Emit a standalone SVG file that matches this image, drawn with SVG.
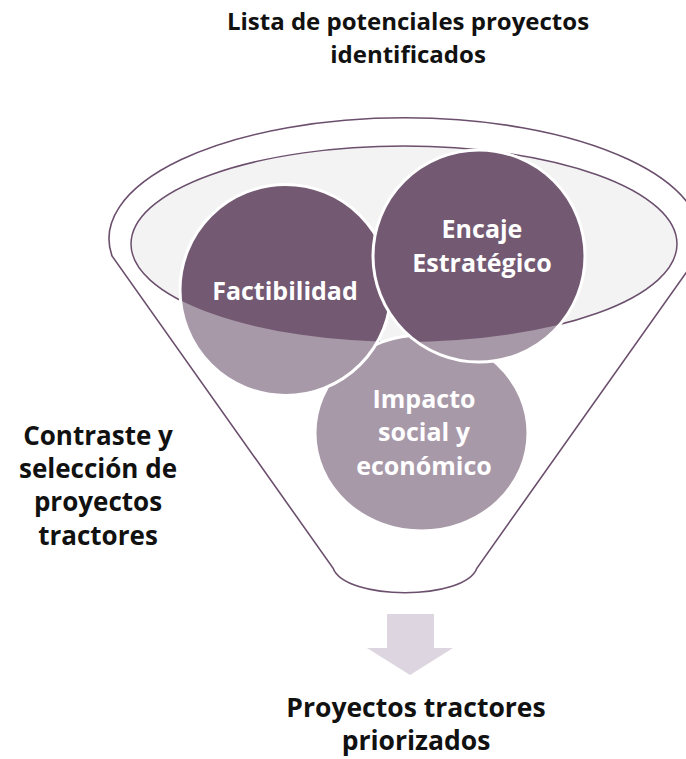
<svg xmlns="http://www.w3.org/2000/svg" width="686" height="759" viewBox="0 0 686 759">
<style>
.t{font-family:"Open Sans","Noto Sans","Liberation Sans",sans-serif;font-weight:bold;font-size:24px;text-anchor:middle}
.n{font-size:25px}
.s{font-size:26px}
.b{font-size:26.5px}
.dk{fill:#111111}
.wt{fill:#ffffff}
.rim{fill:#ffffff;stroke:#6b4f6d;stroke-width:1.6}
.light{fill:#a899a9}
.dark{fill:#735a72}
.ring{fill:none;stroke:#ffffff;stroke-width:3}
</style>
<defs>
<clipPath id="opening"><ellipse cx="404" cy="244" rx="273" ry="98"/></clipPath>
</defs>
<g id="title">
<text class="t dk" x="408" y="30">Lista de potenciales proyectos</text>
<text class="t dk" x="408" y="63">identificados</text>
</g>
<g id="funnel">
<path class="rim" d="M112,256 A296,121 0 1 1 698,256 L477,568 C465,601 345,601 333,568 Z"/>
<ellipse cx="404" cy="244" rx="273" ry="98" fill="#f3f3f3" stroke="#6b4f6d" stroke-width="1.5"/>
</g>
<g id="impacto">
<ellipse class="light" cx="421.5" cy="433" rx="106.5" ry="98"/>
<ellipse class="ring" cx="421.5" cy="433" rx="106.5" ry="98"/>
<text class="t n wt" x="424" y="408">Impacto</text>
<text class="t n wt" x="424" y="441">social y</text>
<text class="t n wt" x="424" y="475">económico</text>
</g>
<g id="factibilidad">
<circle class="light" cx="285.5" cy="290" r="105.5"/>
<circle class="dark" cx="285.5" cy="290" r="105.5" clip-path="url(#opening)"/>
<circle class="ring" cx="285.5" cy="290" r="105.5"/>
<text class="t n wt" x="285" y="300">Factibilidad</text>
</g>
<g id="encaje">
<circle class="light" cx="479" cy="256" r="106"/>
<circle class="dark" cx="479" cy="256" r="106" clip-path="url(#opening)"/>
<circle class="ring" cx="479" cy="256" r="106"/>
<text class="t n wt" x="482" y="238">Encaje</text>
<text class="t n wt" x="482" y="272">Estratégico</text>
</g>
<g id="contraste">
<text class="t s dk" x="98" y="445">Contraste y</text>
<text class="t s dk" x="98" y="478">selección de</text>
<text class="t s dk" x="98" y="511">proyectos</text>
<text class="t s dk" x="98" y="545">tractores</text>
</g>
<g id="connectors">
<polygon id="arrow" points="387,614 434,614 434,648 453,648 410,675 367,648 387,648" fill="#ddd5df"/>
</g>
<g id="resultado">
<text class="t b dk" x="416" y="717">Proyectos tractores</text>
<text class="t b dk" x="416" y="750">priorizados</text>
</g>
</svg>
